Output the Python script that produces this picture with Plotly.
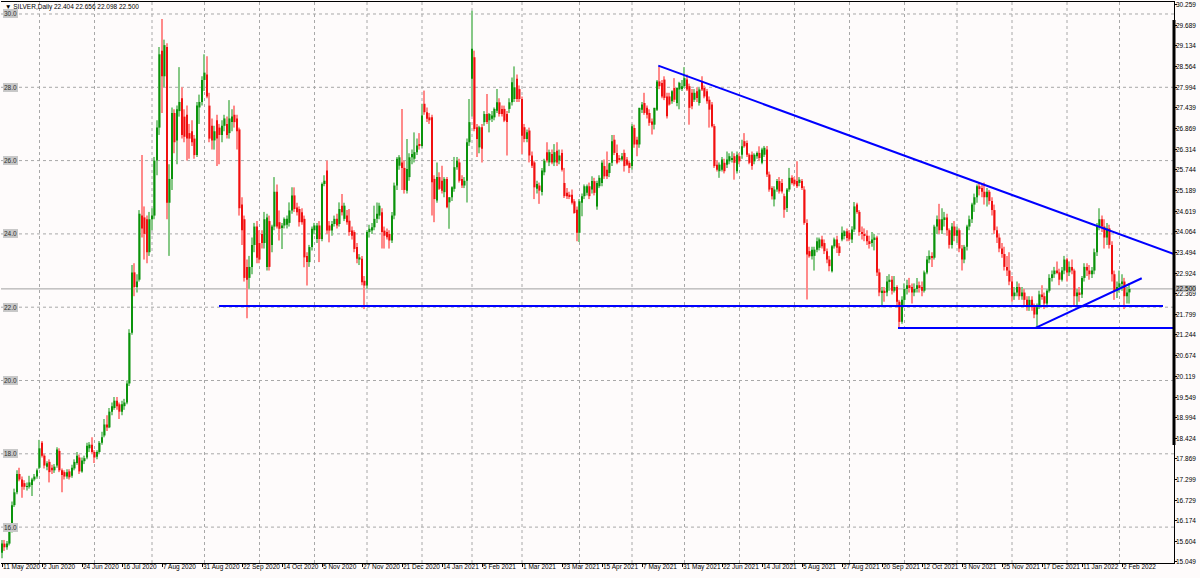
import plotly.graph_objects as go
import pandas as pd

symbol = "SILVER,Daily"

opens = [
15.30,15.55,15.45,15.55,15.90,16.60,16.95,17.45,17.30,17.20,
17.10,17.10,17.15,17.30,17.38,17.62,18.30,17.95,17.65,17.78,
17.62,17.55,17.68,18.08,17.55,17.50,17.38,17.52,17.40,17.60,
17.75,17.90,17.52,17.80,17.90,18.15,18.25,18.05,17.92,18.05,
18.30,18.50,18.80,18.72,19.15,19.25,19.45,19.35,19.15,19.30,
19.40,19.92,21.30,22.95,22.55,22.75,24.50,24.45,24.40,23.50,
24.40,24.50,26.00,26.90,29.00,28.30,29.10,24.85,25.50,27.30,
26.55,27.35,27.70,27.20,27.25,26.75,26.80,26.60,26.15,27.45,
27.60,28.20,28.35,27.50,26.95,26.55,27.10,26.90,26.70,26.95,
27.00,26.75,27.05,27.25,27.15,26.85,24.80,24.40,23.10,22.80,
23.10,23.70,24.20,23.75,24.00,23.75,23.10,24.35,23.70,24.20,
25.15,24.32,24.18,24.23,24.25,24.30,24.64,25.05,24.72,24.68,
24.59,24.41,23.40,23.23,23.64,24.10,23.86,24.23,23.86,25.36,
25.73,24.23,24.09,24.27,24.41,24.27,24.77,24.41,24.50,24.36,
24.09,24.05,23.64,23.30,23.32,22.72,22.59,24.05,24.09,24.18,
24.41,24.50,24.59,24.09,24.05,24.00,23.82,24.50,25.32,25.86,
25.95,25.80,25.18,25.55,26.09,26.05,26.23,26.45,26.40,27.55,
27.32,27.18,27.18,25.50,24.91,25.55,25.45,25.14,25.50,24.86,
25.00,25.23,25.82,25.95,25.50,25.32,25.45,26.50,28.23,28.82,
26.91,26.36,26.91,27.05,27.27,27.10,27.14,27.18,27.36,27.59,
27.41,27.41,27.27,27.41,27.59,27.68,28.23,27.95,27.68,26.91,
26.59,26.82,26.14,25.95,25.23,25.32,25.14,25.68,26.23,25.95,
26.18,25.95,26.27,26.00,26.21,25.39,25.12,25.07,25.07,24.89,
24.66,24.03,24.85,25.03,25.12,25.30,25.21,25.44,24.75,25.30,
25.39,25.85,25.75,25.66,25.94,26.57,26.21,26.07,26.03,26.21,
26.03,25.94,25.85,26.89,26.57,26.44,27.39,27.57,27.44,27.30,
27.07,26.98,27.39,28.16,28.12,28.21,27.75,27.75,27.62,27.98,
27.57,27.94,27.98,28.03,28.21,28.03,27.85,27.66,27.89,27.57,
28.16,27.98,27.89,27.66,27.53,26.94,25.89,25.71,25.75,25.94,
25.89,25.98,26.03,26.12,25.71,26.12,26.16,26.53,26.48,26.16,
26.16,25.98,26.12,26.21,25.94,26.16,26.30,25.62,25.25,24.94,
25.21,25.44,25.39,25.03,24.71,25.21,25.53,25.48,25.44,25.39,
25.44,25.21,24.30,23.53,23.39,23.40,23.57,23.62,23.85,23.75,
23.53,23.30,22.98,23.66,23.85,23.66,23.85,23.94,24.07,24.03,
23.85,24.12,24.80,24.60,24.05,24.00,23.95,23.80,23.75,23.85,
23.90,22.95,22.40,22.45,22.40,22.70,22.75,22.45,22.55,22.15,
21.60,22.20,22.50,22.60,22.55,22.40,22.50,22.60,22.55,22.45,
22.95,23.30,23.40,23.35,24.20,24.40,24.10,24.40,24.45,24.10,
23.70,24.20,23.95,24.10,23.60,23.30,23.65,24.20,24.40,24.80,
25.00,25.30,25.25,25.15,25.00,25.15,24.90,24.65,24.10,23.90,
23.60,23.45,23.10,23.00,22.70,22.30,22.40,22.55,22.30,22.40,
22.20,22.00,22.20,22.00,21.80,22.00,22.35,22.30,22.10,22.45,
22.80,22.90,23.00,22.95,22.75,23.00,23.30,22.95,23.10,23.00,
22.30,22.40,22.35,22.80,23.10,23.00,22.90,23.00,23.50,24.20,
24.40,24.20,23.90,24.15,23.70,22.90,22.45,22.55,22.65,22.70,
22.30,22.404]

highs = [
15.65,15.65,15.62,15.95,16.70,17.05,17.55,17.62,17.38,17.28,
17.22,17.40,17.35,17.45,17.60,18.38,18.35,18.00,17.80,17.85,
17.70,17.72,18.18,18.15,17.60,17.55,17.58,17.58,17.70,17.85,
18.05,17.98,17.90,17.95,18.30,18.32,18.45,18.10,18.10,18.35,
18.60,18.95,19.05,19.25,19.40,19.55,19.55,19.40,19.45,19.50,
20.00,21.40,23.15,23.20,22.90,24.65,26.15,24.75,24.50,24.60,
24.70,26.10,27.10,29.10,29.86,29.30,29.20,25.90,27.45,27.40,
27.50,28.55,28.00,27.40,27.50,27.00,27.10,26.70,27.60,27.80,
28.30,28.90,28.85,27.85,27.15,26.95,27.25,27.00,27.10,27.25,
27.20,27.65,27.40,27.50,27.25,26.90,25.00,24.50,23.30,23.40,
23.90,24.30,24.35,24.10,24.10,24.60,24.55,24.50,24.25,25.55,
25.35,24.64,24.30,24.45,24.50,24.86,25.27,25.27,24.85,24.75,
24.70,24.50,23.50,23.70,24.20,24.30,24.30,24.35,25.40,25.60,
26.00,24.35,24.35,24.50,24.55,24.86,25.09,24.85,24.65,24.68,
24.20,24.10,23.75,23.45,23.40,22.85,24.10,24.25,24.30,24.77,
24.86,24.85,24.70,24.20,24.15,24.10,24.60,25.40,26.10,26.15,
27.41,26.00,26.59,26.20,26.30,26.77,26.60,26.75,27.55,27.91,
27.45,27.30,27.25,25.60,25.95,25.68,25.86,25.55,25.55,25.00,
25.30,26.10,26.10,26.05,25.60,25.55,26.60,27.68,30.09,29.00,
27.00,26.95,27.00,27.35,27.82,27.30,27.35,27.45,27.95,27.70,
27.50,27.50,27.35,27.70,28.27,28.57,28.35,28.05,27.75,27.00,
26.85,26.90,26.25,26.00,25.45,25.40,25.80,26.05,26.50,26.30,
26.30,26.45,26.50,26.30,26.30,25.80,25.25,25.15,25.21,24.95,
24.75,24.95,25.10,25.35,25.35,25.40,25.57,25.53,25.45,25.60,
26.00,26.03,26.25,25.90,26.70,26.70,26.44,26.15,26.21,26.30,
26.10,26.00,27.00,26.98,26.65,27.44,27.60,27.85,27.50,27.40,
27.15,27.44,28.20,28.57,28.20,28.30,27.85,27.85,27.92,28.25,
28.00,28.15,28.20,28.55,28.35,28.10,27.95,27.95,28.00,28.00,
28.30,28.05,27.95,27.75,27.60,27.00,26.00,25.95,26.10,26.05,
26.25,26.20,26.25,26.20,26.25,26.20,26.57,26.75,26.55,26.20,
26.25,26.20,26.25,26.39,26.35,26.40,26.40,25.70,25.30,25.30,
25.50,25.55,25.50,25.10,25.25,25.80,25.60,25.55,25.98,25.55,
25.50,25.30,24.40,23.65,23.65,23.65,23.90,23.90,23.95,23.85,
23.60,23.40,23.70,23.90,23.95,23.75,24.20,24.10,24.15,24.10,
24.21,24.87,24.85,24.65,24.20,24.15,24.10,23.95,24.05,24.00,
23.95,23.05,22.55,22.55,22.85,22.90,22.85,22.85,22.60,22.20,
22.30,22.65,22.75,22.80,22.65,22.65,22.80,22.70,22.70,23.00,
23.40,23.55,23.50,24.25,24.50,24.82,24.70,24.60,24.55,24.15,
24.30,24.35,24.20,24.15,23.70,23.70,24.25,24.50,24.85,25.10,
25.35,25.40,25.35,25.40,25.25,25.20,25.00,24.80,24.20,24.00,
23.75,23.65,23.40,23.50,22.85,22.55,22.70,22.65,22.55,22.50,
22.30,22.30,22.30,22.10,22.10,22.45,22.60,22.40,22.50,22.90,
23.00,23.10,23.25,23.05,23.10,23.40,23.35,23.25,23.30,23.05,
22.50,22.55,22.85,23.20,23.20,23.15,23.10,23.60,24.30,24.70,
24.50,24.40,24.30,24.25,23.80,23.00,22.70,23.00,22.90,22.80,
22.55,22.656]

lows = [
15.15,15.35,15.38,15.50,15.85,16.55,16.90,17.25,16.80,17.02,
17.00,17.05,16.85,17.25,17.32,17.58,17.90,17.60,17.55,17.22,
17.45,17.48,17.62,17.50,16.95,17.30,17.32,17.30,17.35,17.55,
17.70,17.45,17.48,17.72,17.85,18.05,18.00,17.75,17.85,18.00,
18.25,18.45,18.62,18.70,19.05,19.20,19.20,18.95,19.05,19.20,
19.35,19.85,21.25,22.30,22.40,22.70,23.90,23.30,23.20,23.40,
24.10,24.40,25.60,26.70,27.30,28.00,24.40,23.40,25.20,26.20,
25.90,27.20,26.60,26.50,26.00,26.05,26.40,26.05,26.10,27.00,
27.50,27.90,27.70,26.50,26.30,26.30,25.85,25.90,26.50,26.80,
26.60,26.60,26.80,26.90,26.30,24.50,23.70,22.70,21.70,22.50,
22.90,23.50,23.20,23.20,23.60,23.60,23.00,23.00,23.50,24.10,
24.15,23.82,23.59,24.15,24.15,24.20,24.55,24.60,24.50,24.20,
24.25,23.09,22.59,23.10,23.55,24.00,23.75,23.23,23.80,25.30,
24.00,23.77,23.95,24.20,24.15,24.20,24.50,24.35,24.25,23.95,
23.85,23.50,23.20,23.15,22.60,21.95,22.50,23.90,24.00,24.10,
24.30,24.40,23.60,23.60,23.85,23.60,23.75,24.40,25.20,25.75,
25.20,25.10,25.10,25.45,25.90,25.95,26.15,26.30,26.35,27.25,
27.05,27.00,24.50,24.32,24.85,25.20,25.10,25.00,24.70,24.14,
24.90,25.15,25.75,25.40,25.25,25.25,24.86,26.40,27.20,26.80,
26.10,26.20,25.95,26.95,27.00,26.77,27.05,27.10,27.30,27.20,
27.20,27.05,26.14,27.30,27.50,27.60,27.60,27.60,26.18,26.50,
26.50,25.95,25.80,24.95,25.10,24.82,25.05,25.60,25.95,25.85,
25.90,25.85,25.85,25.90,25.70,24.98,24.95,24.95,24.80,24.55,
23.80,23.78,24.48,24.95,25.05,24.95,25.10,25.05,24.66,25.25,
25.30,25.50,25.50,25.55,25.85,26.15,25.90,25.95,25.98,25.70,
25.85,25.66,25.75,26.35,26.12,26.35,27.30,27.25,27.15,26.95,
26.71,26.85,27.35,27.95,27.70,27.65,27.15,27.50,27.55,27.60,
27.48,27.40,27.90,27.98,27.90,26.98,27.40,27.60,27.60,27.50,
27.90,27.70,27.55,26.90,26.90,25.80,25.70,25.53,25.70,25.65,
25.80,25.90,25.95,25.48,25.65,25.90,26.05,26.35,26.10,25.90,
25.75,25.90,26.05,26.00,25.90,26.10,25.55,25.15,24.94,24.75,
25.15,25.10,25.10,24.44,24.60,25.15,25.35,25.30,25.25,25.30,
25.20,24.25,22.21,23.35,23.30,23.00,23.50,23.55,23.60,23.45,
23.20,22.98,22.95,23.60,23.48,23.40,23.80,23.85,23.80,23.80,
23.75,24.05,24.55,23.95,23.85,23.80,23.70,23.60,23.65,23.55,
22.85,22.30,22.00,22.15,22.30,22.45,22.35,22.40,22.05,21.42,
21.55,22.00,22.35,22.40,22.10,22.30,22.40,22.40,22.30,22.40,
22.90,23.20,23.10,23.30,24.00,24.00,24.00,24.20,23.95,23.60,
23.60,23.80,23.75,23.50,23.00,23.20,23.55,24.10,24.30,24.60,
24.85,25.05,25.00,24.80,24.75,24.80,24.50,24.00,23.75,23.50,
23.35,23.00,22.85,22.60,22.15,22.20,22.30,22.20,22.20,22.05,
21.90,21.90,21.90,21.70,21.42,21.95,22.20,21.95,22.05,22.40,
22.70,22.80,22.90,22.60,22.70,22.90,22.70,22.85,22.90,22.05,
22.00,22.15,22.25,22.70,22.85,22.75,22.80,22.90,23.40,24.10,
24.05,23.60,23.70,23.60,22.70,22.20,22.25,22.40,22.45,21.95,
22.10,22.098]

closes = [
15.55,15.45,15.55,15.90,16.60,16.95,17.45,17.30,17.10,17.10,
17.12,17.22,17.30,17.38,17.55,18.15,17.95,17.68,17.74,17.50,
17.55,17.65,18.12,17.55,17.42,17.38,17.50,17.36,17.62,17.78,
17.95,17.52,17.82,17.88,18.22,18.25,18.05,17.90,18.05,18.30,
18.45,18.80,18.72,19.15,19.30,19.45,19.30,19.15,19.35,19.40,
19.92,21.30,22.95,22.55,22.70,24.55,24.15,24.00,23.50,24.40,
24.50,26.00,26.90,28.90,28.30,29.15,24.85,25.50,27.30,26.50,
27.40,27.60,26.70,26.65,26.60,26.60,26.50,26.15,27.50,27.60,
28.20,28.40,27.75,26.60,26.55,26.80,26.60,26.70,26.95,27.15,
26.70,27.15,27.20,27.05,26.80,24.70,24.10,22.80,22.75,23.10,
23.70,24.20,23.35,23.30,23.75,24.40,24.45,23.10,24.20,25.15,
24.20,24.14,24.23,24.41,24.41,24.64,25.05,24.68,24.59,24.32,
24.32,23.36,23.23,23.64,24.14,24.23,24.23,23.86,25.36,25.45,
24.09,24.09,24.27,24.41,24.23,24.68,24.59,24.77,24.32,24.05,
23.95,23.59,23.32,23.36,22.68,22.59,24.05,24.14,24.18,24.41,
24.55,24.77,24.05,23.95,23.91,23.82,24.50,25.32,26.05,26.09,
25.80,25.20,25.77,26.09,26.18,26.23,26.41,26.40,27.23,27.32,
27.14,27.10,25.41,24.95,25.55,25.23,25.18,25.50,24.73,25.00,
25.27,25.82,26.00,25.45,25.32,25.45,26.50,27.05,29.05,26.86,
26.59,26.91,26.32,27.27,27.05,27.27,27.23,27.41,27.59,27.27,
27.27,27.09,27.05,27.59,28.14,28.00,27.68,27.68,26.68,26.59,
26.77,26.14,25.86,25.27,25.36,25.18,25.73,26.00,26.00,26.23,
25.95,26.23,25.95,26.14,25.75,25.03,25.03,25.03,24.85,24.57,
24.03,24.89,25.03,25.30,25.30,25.03,25.44,25.12,25.39,25.53,
25.94,25.57,25.57,25.94,26.53,26.21,25.94,26.03,26.12,25.85,
25.89,25.80,26.94,26.44,26.44,27.44,27.53,27.30,27.25,27.03,
26.98,27.44,28.16,28.03,27.75,27.71,27.21,27.53,27.89,27.66,
27.98,28.12,28.03,28.25,27.94,27.44,27.48,27.85,27.71,27.94,
27.94,27.75,27.62,27.39,26.94,25.85,25.75,25.89,26.03,25.71,
26.03,26.12,26.07,25.94,26.16,25.98,26.39,26.39,26.16,25.94,
25.85,26.16,26.21,26.07,26.30,26.35,25.62,25.21,25.03,25.21,
25.44,25.16,25.16,24.66,25.21,25.53,25.39,25.35,25.30,25.48,
25.25,24.30,23.44,23.39,23.57,23.57,23.80,23.85,23.66,23.53,
23.30,23.12,23.66,23.85,23.62,23.48,24.03,24.07,23.89,23.85,
24.12,24.75,24.60,24.05,24.00,23.95,23.80,23.75,23.85,23.90,
22.95,22.40,22.45,22.40,22.70,22.75,22.45,22.55,22.15,21.60,
22.20,22.50,22.60,22.55,22.40,22.50,22.60,22.55,22.45,22.95,
23.30,23.40,23.35,24.20,24.40,24.10,24.40,24.45,24.10,23.70,
24.20,23.95,24.10,23.60,23.30,23.65,24.20,24.40,24.80,25.00,
25.30,25.25,25.15,25.00,25.15,24.90,24.65,24.10,23.90,23.60,
23.45,23.10,23.00,22.70,22.30,22.40,22.55,22.30,22.40,22.20,
22.00,22.20,22.00,21.80,22.00,22.35,22.30,22.10,22.45,22.80,
22.90,23.00,22.95,22.75,23.00,23.30,22.95,23.10,23.00,22.30,
22.40,22.35,22.80,23.10,23.00,22.90,23.00,23.50,24.20,24.40,
24.20,23.90,24.15,23.70,22.90,22.45,22.55,22.65,22.70,22.30,
22.40,22.500]

# price scale labels on the right axis
right_ticks = [30.259, 29.689, 29.134, 28.564, 27.994, 27.439, 26.869, 26.314,
               25.744, 25.189, 24.619, 24.064, 23.494, 22.924, 22.369, 21.799,
               21.244, 20.674, 20.119, 19.549, 18.994, 18.424, 17.869, 17.299,
               16.729, 16.174, 15.604, 15.049]
# labelled horizontal levels on the left
level_marks = [30.0, 28.0, 26.0, 24.0, 22.0, 20.0, 18.0, 16.0]
# market holidays without bars
no_bar_days = ["2020-12-25", "2021-01-01", "2021-04-02", "2021-12-24"]
# drawn objects (bar index, price)
support_levels = [(86.8, 464.4, 22.03), (358.4, 468.8, 21.43)]
trend_lines = [((262.5, 28.59), (468.8, 23.45)), ((413.2, 21.43), (455.9, 22.79))]

n = min(len(opens), len(highs), len(lows), len(closes))
opens, highs, lows, closes = opens[:n], highs[:n], lows[:n], closes[:n]
idx = list(range(n))

all_days = pd.bdate_range("2020-05-11", periods=n + 20)
dates = [d for d in all_days if d.strftime("%Y-%m-%d") not in no_bar_days][:n]

y_min, y_max = 15.021, 30.327
x_min, x_max = -0.4, 468.8

up = [c >= o for o, c in zip(opens, closes)]
body_col = ["#0b930b" if u else "#f01010" for u in up]
wick_col = ["#86c886" if u else "#ff8a8a" for u in up]

fig = go.Figure()
fig.add_trace(go.Bar(
    x=idx, base=lows, y=[h - l for h, l in zip(highs, lows)], width=0.42,
    marker=dict(color=wick_col, line=dict(width=0)), hoverinfo="skip", showlegend=False))
fig.add_trace(go.Bar(
    x=idx, base=[min(o, c) for o, c in zip(opens, closes)],
    y=[max(abs(c - o), 0.015) for o, c in zip(opens, closes)], width=0.8,
    marker=dict(color=body_col, line=dict(width=0)), hoverinfo="skip", showlegend=False))

for x0, x1, lvl in support_levels:
    fig.add_trace(go.Scatter(x=[x0, x1], y=[lvl, lvl], mode="lines",
                             line=dict(color="#0000ff", width=2), hoverinfo="skip", showlegend=False))
for (x0, y0), (x1, y1) in trend_lines:
    fig.add_trace(go.Scatter(x=[x0, x1], y=[y0, y1], mode="lines",
                             line=dict(color="#0000ff", width=2), hoverinfo="skip", showlegend=False))

shapes = []
for lvl in level_marks:
    shapes.append(dict(type="line", xref="paper", yref="y", x0=0, x1=1, y0=lvl, y1=lvl,
                       line=dict(color="#a8a8a8", width=1, dash="dot"), layer="below"))
for i in range(1, n):
    if dates[i].month != dates[i - 1].month:
        shapes.append(dict(type="line", xref="x", yref="paper", x0=i, x1=i, y0=0, y1=1,
                           line=dict(color="#a8a8a8", width=1, dash="dot"), layer="below"))
shapes.append(dict(type="line", xref="paper", yref="y", x0=0, x1=1,
                   y0=closes[-1], y1=closes[-1], line=dict(color="#a0a0a0", width=1), layer="below"))
shapes.append(dict(type="line", xref="paper", yref="paper", x0=1, x1=1, y0=0.2103, y1=0.968,
                   line=dict(color="#000000", width=3)))

font = "Liberation Sans, Arial, sans-serif"
fs = 6.5
ann = []
ann.append(dict(xref="paper", yref="paper", x=0, y=1, xanchor="left", yanchor="top",
                xshift=4, yshift=-1, showarrow=False, borderpad=0, borderwidth=0,
                text=f"\u25BC {symbol} {opens[-1]:.3f} {highs[-1]:.3f} {lows[-1]:.3f} {closes[-1]:.3f}",
                font=dict(family=font, size=fs, color="#000000")))
for lvl in level_marks:
    ann.append(dict(xref="paper", yref="y", x=0, y=lvl, xanchor="left", yanchor="middle",
                    xshift=2, showarrow=False, text=f"{lvl:.1f}", bgcolor="#c8c8c8",
                    borderpad=1, borderwidth=0, font=dict(family=font, size=fs, color="#303030")))
for i in range(0, n, 16):
    d = dates[i]
    ann.append(dict(xref="x", yref="paper", x=i, y=0, xanchor="left", yanchor="top",
                    xshift=1, yshift=0, showarrow=False, borderpad=0, borderwidth=0,
                    text=f"{d.day} {d:%b %Y}",
                    font=dict(family=font, size=fs, color="#000000")))
for v in right_ticks:
    ann.append(dict(xref="paper", yref="y", x=1, y=v, xanchor="left", yanchor="middle",
                    xshift=2, showarrow=False, borderpad=0, borderwidth=0, text=f"{v:.3f}",
                    font=dict(family=font, size=fs, color="#000000")))
ann.append(dict(xref="paper", yref="y", x=1, y=closes[-1], xanchor="left", yanchor="middle",
                xshift=2, showarrow=False, text=f"{closes[-1]:.3f}", bgcolor="#c0c0c0",
                borderpad=0, borderwidth=0, font=dict(family=font, size=fs, color="#000000")))

fig.update_layout(
    width=1200, height=578,
    margin=dict(l=1, r=26, t=2, b=15),
    paper_bgcolor="#fefbfb", plot_bgcolor="#fefbfb",
    barmode="overlay", showlegend=False,
    shapes=shapes, annotations=ann,
    xaxis=dict(range=[x_min, x_max], showgrid=False, zeroline=False,
               showline=True, linecolor="#000000", linewidth=1, mirror=True,
               tickvals=list(range(0, n, 16)), ticks="outside", ticklen=3,
               tickcolor="#000000", showticklabels=False, fixedrange=True),
    yaxis=dict(range=[y_min, y_max], side="right", showgrid=False, zeroline=False,
               showline=True, linecolor="#000000", linewidth=1,
               tickvals=right_ticks, ticks="outside", ticklen=2, tickcolor="#000000",
               showticklabels=False, fixedrange=True),
)

fig.write_html(
    "out.html",
    config={"displayModeBar": False},
    post_script="document.body.style.margin='0';document.body.style.overflow='hidden';",
)
